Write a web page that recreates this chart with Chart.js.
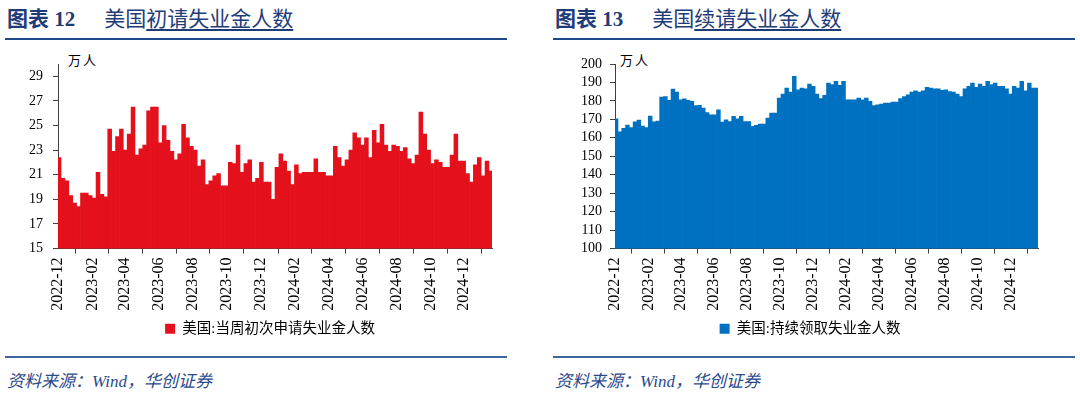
<!DOCTYPE html>
<html>
<head>
<meta charset="utf-8">
<script src="https://cdn.jsdelivr.net/npm/chart.js@4.4.1/dist/chart.umd.min.js"></script>
<style>
  body { margin: 0; width: 1080px; height: 394px; background: #fff; position: relative; overflow: hidden;
         font-family: "Liberation Serif", "Noto Sans CJK SC", serif; }
  .title { position: absolute; top: 2px; font-size: 21px; color: #1f3c78; white-space: nowrap; }
  .title b { font-weight: bold; margin-right: 29px; }
  .title u { text-decoration: underline; text-underline-offset: 3px; }
  .rule { position: absolute; height: 2px; background: #1f4a8a; }
  .rule.bottom { background: #3c64a0; }
  .src { position: absolute; top: 367px; font-size: 17px; font-style: italic; color: #2a4a8a; white-space: nowrap; }
  .unit { position: absolute; top: 50px; font-size: 13px; letter-spacing: 2px; color: #000; }
  canvas { position: absolute; top: 40px; }
</style>
</head>
<body>
<div class="title" style="left:7px"><b>图表 12</b>美国<u>初请失业金人数</u></div>
<div class="title" style="left:555px"><b>图表 13</b>美国<u>续请失业金人数</u></div>
<div class="rule" style="left:5px;width:502px;top:38px"></div>
<div class="rule" style="left:553px;width:522px;top:38px"></div>
<div class="unit" style="left:68px">万人</div>
<div class="unit" style="left:620px">万人</div>
<canvas id="initChart" width="540" height="310" style="left:0"></canvas>
<canvas id="contChart" width="540" height="310" style="left:540px"></canvas>
<div class="rule bottom" style="left:5px;width:502px;top:356px"></div>
<div class="rule bottom" style="left:553px;width:522px;top:356px"></div>
<div class="src" style="left:7px">资料来源：Wind，华创证券</div>
<div class="src" style="left:555px">资料来源：Wind，华创证券</div>

<script>
// week-ending dates
const weeks = [
  '2022-12-03', '2022-12-10', '2022-12-17', '2022-12-24', '2022-12-31',
  '2023-01-07', '2023-01-14', '2023-01-21', '2023-01-28', '2023-02-04', '2023-02-11', '2023-02-18', '2023-02-25',
  '2023-03-04', '2023-03-11', '2023-03-18', '2023-03-25', '2023-04-01', '2023-04-08', '2023-04-15', '2023-04-22',
  '2023-04-29', '2023-05-06', '2023-05-13', '2023-05-20', '2023-05-27', '2023-06-03', '2023-06-10', '2023-06-17',
  '2023-06-24', '2023-07-01', '2023-07-08', '2023-07-15', '2023-07-22', '2023-07-29', '2023-08-05', '2023-08-12',
  '2023-08-19', '2023-08-26', '2023-09-02', '2023-09-09', '2023-09-16', '2023-09-23', '2023-09-30', '2023-10-07',
  '2023-10-14', '2023-10-21', '2023-10-28', '2023-11-04', '2023-11-11', '2023-11-18', '2023-11-25', '2023-12-02',
  '2023-12-09', '2023-12-16', '2023-12-23', '2023-12-30',
  '2024-01-06', '2024-01-13', '2024-01-20', '2024-01-27', '2024-02-03', '2024-02-10', '2024-02-17', '2024-02-24',
  '2024-03-02', '2024-03-09', '2024-03-16', '2024-03-23', '2024-03-30', '2024-04-06', '2024-04-13', '2024-04-20',
  '2024-04-27', '2024-05-04', '2024-05-11', '2024-05-18', '2024-05-25', '2024-06-01', '2024-06-08', '2024-06-15',
  '2024-06-22', '2024-06-29', '2024-07-06', '2024-07-13', '2024-07-20', '2024-07-27', '2024-08-03', '2024-08-10',
  '2024-08-17', '2024-08-24', '2024-08-31', '2024-09-07', '2024-09-14', '2024-09-21', '2024-09-28', '2024-10-05',
  '2024-10-12', '2024-10-19', '2024-10-26', '2024-11-02', '2024-11-09', '2024-11-16', '2024-11-23', '2024-11-30',
  '2024-12-07', '2024-12-14', '2024-12-21', '2024-12-28',
  '2025-01-04', '2025-01-11', '2025-01-18'
];

// 美国:当周初次申请失业金人数 (万人)
const initialClaims = [
  22.4, 20.7, 20.5, 19.3, 18.7, 18.4, 19.5, 19.5, 19.3, 19.1,
  21.2, 19.4, 19.2, 24.7, 22.9, 24.1, 24.7, 23.0, 24.3, 26.5,
  22.6, 23.1, 23.4, 26.2, 26.5, 26.5, 23.6, 25.0, 23.8, 22.9,
  22.2, 22.7, 25.1, 24.0, 23.3, 23.0, 21.7, 22.2, 20.2, 20.5,
  20.9, 21.1, 20.1, 20.1, 22.0, 21.9, 23.4, 21.2, 21.9, 22.2,
  20.4, 20.7, 22.0, 20.4, 20.4, 19.0, 21.6, 22.7, 22.1, 21.3,
  20.2, 21.8, 21.1, 21.2, 21.2, 21.2, 22.3, 21.2, 21.2, 20.9,
  20.9, 23.3, 22.4, 21.7, 22.2, 23.0, 24.4, 24.0, 23.4, 24.0,
  22.4, 24.6, 23.6, 25.1, 23.4, 22.9, 23.4, 23.3, 22.9, 23.2,
  22.3, 21.9, 22.6, 26.1, 24.3, 23.0, 21.9, 22.2, 22.0, 21.6,
  21.6, 22.6, 24.3, 22.1, 22.1, 21.1, 20.4, 21.8, 22.4, 20.9,
  22.1, 21.3
];

// 美国:持续领取失业金人数 (万人)
const continuingClaims = [
  170.3, 163.3, 165.1, 166.9, 165.5, 168.7, 169.6, 166.4, 165.6, 171.8,
  168.7, 169.1, 182.1, 182.3, 180.3, 186.4, 184.8, 180.6, 181.1, 180.3,
  179.7, 177.4, 177.6, 176.1, 173.7, 172.5, 172.5, 175.2, 168.5, 169.7,
  168.8, 171.6, 170.3, 171.6, 168.8, 168.8, 166.2, 166.7, 167.4, 167.4,
  170.7, 173.4, 173.4, 181.5, 183.7, 187.0, 184.8, 193.3, 186.0, 187.0,
  186.6, 189.1, 187.9, 183.7, 181.2, 183.0, 189.7, 188.8, 190.6, 188.4,
  190.6, 180.6, 180.6, 180.6, 181.5, 180.6, 181.5, 179.7, 177.5, 177.9,
  178.3, 178.8, 178.8, 179.3, 179.3, 181.2, 182.4, 183.3, 184.8, 185.5,
  184.8, 185.5, 187.3, 186.9, 186.6, 186.6, 185.7, 186.0, 185.1, 184.8,
  183.7, 182.4, 186.6, 187.9, 189.7, 187.3, 189.1, 187.9, 190.6, 188.8,
  189.7, 187.9, 187.9, 186.6, 183.7, 187.9, 186.9, 190.6, 185.5, 189.7,
  186.9, 186.9
];

const monthTicks = ['2022-12', '2023-02', '2023-04', '2023-06', '2023-08', '2023-10', '2023-12',
                    '2024-02', '2024-04', '2024-06', '2024-08', '2024-10', '2024-12'];
const axisStart = '2022-12-01';
const axisEnd = '2025-01-20';

const initTicks = [15, 17, 19, 21, 23, 25, 27, 29];
const contTicks = [100, 110, 120, 130, 140, 150, 160, 170, 180, 190, 200];

const fontFamily = '"Liberation Serif", "Noto Sans CJK SC", serif';
const axisColor = '#404040';

const dayNum = s => Date.UTC(+s.slice(0, 4), +s.slice(5, 7) - 1, +(s.slice(8, 10) || 1)) / 864e5;

// centre the legend under the whole panel instead of under the plot
const centerLegend = {
    id: 'centerLegend',
    afterLayout: (chart) => {
        const lg = chart.legend;
        lg.left = 0;
        lg.right = chart.width;
        lg.width = chart.width;
    },
};

const makeChart = (canvasId, label, values, color, yMin, yMax, yTicks, yWidth, yPad, padRight) => {
    const ctx = document.getElementById(canvasId).getContext('2d');
    return new Chart(ctx, {
        type: 'bar',
        data: {
            datasets: [{
                label,
                data: values.map((v, i) => ({ x: dayNum(weeks[i]), y: v })),
                backgroundColor: color,
                borderWidth: 0,
                barPercentage: 1,
                categoryPercentage: 1,
            }],
        },
        plugins: [centerLegend],
        options: {
            responsive: false,
            animation: false,
            layout: { padding: { left: 0, right: padRight, top: 24, bottom: 4 } },
            scales: {
                x: {
                    type: 'linear',
                    offset: false,
                    min: dayNum(axisStart),
                    max: dayNum(axisEnd),
                    afterBuildTicks: (ax) => { ax.ticks = monthTicks.map(m => ({ value: dayNum(m) })); },
                    afterFit: (ax) => { ax.height = 63; },
                    ticks: {
                        autoSkip: false,
                        minRotation: 90,
                        maxRotation: 90,
                        padding: 4,
                        color: '#000',
                        font: { family: fontFamily, size: 16 },
                        callback: (v, i) => monthTicks[i],
                    },
                    grid: { drawOnChartArea: false, drawTicks: true, tickLength: 5, color: axisColor },
                    border: { color: axisColor },
                },
                y: {
                    min: yMin,
                    max: yMax,
                    afterBuildTicks: (ax) => { ax.ticks = yTicks.map(v => ({ value: v })); },
                    afterFit: (ax) => { ax.width = yWidth; },
                    ticks: { autoSkip: false, padding: yPad, color: '#000', font: { family: fontFamily, size: 14 } },
                    grid: { drawOnChartArea: false, drawTicks: true, tickLength: 5, color: axisColor },
                    border: { color: axisColor },
                },
            },
            plugins: {
                tooltip: { enabled: false },
                legend: {
                    position: 'bottom',
                    labels: {
                        boxWidth: 10,
                        boxHeight: 10,
                        padding: 10,
                        color: '#000',
                        font: { family: fontFamily, size: 14.5 },
                    },
                },
            },
        },
    });
};

makeChart('initChart', '美国:当周初次申请失业金人数', initialClaims, '#E4111C', 15, 30, initTicks, 58, 10, 48);
makeChart('contChart', '美国:持续领取失业金人数', continuingClaims, '#0070C0', 100, 200, contTicks, 75, 8, 42);
</script>
</body>
</html>
